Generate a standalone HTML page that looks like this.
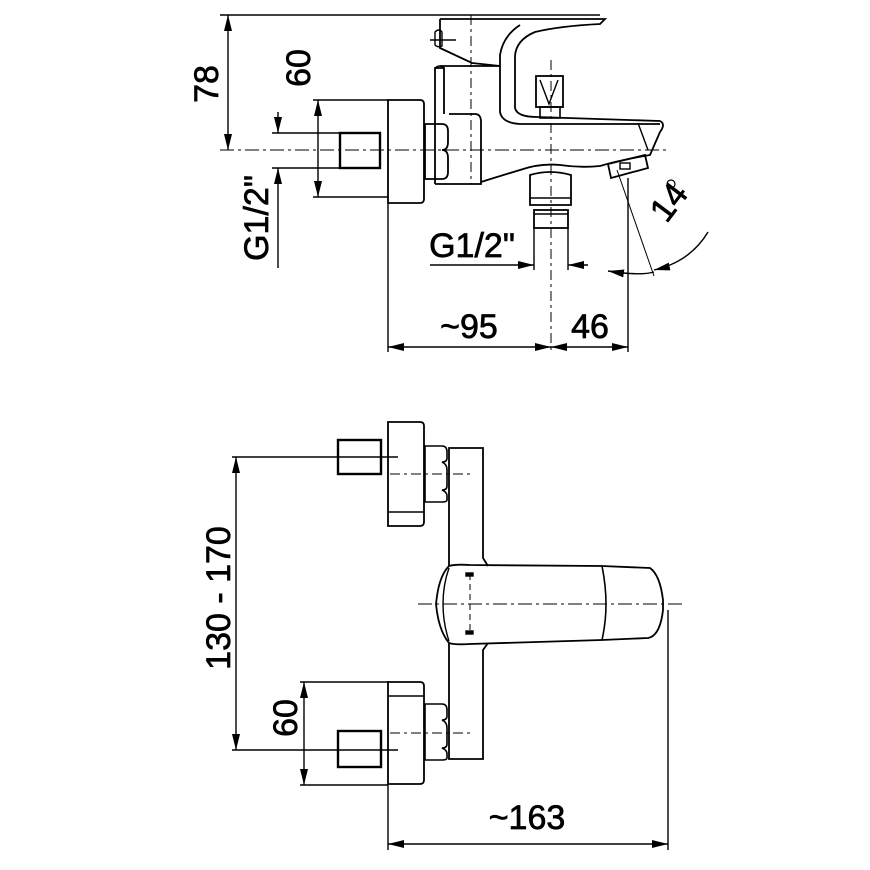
<!DOCTYPE html>
<html><head><meta charset="utf-8"><style>
html,body{margin:0;padding:0;background:#fff}
svg{display:block}
text{font-family:"Liberation Sans",Arial,sans-serif;font-size:34px;fill:#000;stroke:#000;stroke-width:0.7}
</style></head><body>
<svg width="870" height="870" viewBox="0 0 870 870" xmlns="http://www.w3.org/2000/svg">
<defs>
<marker id="a" viewBox="0 0 16 8" refX="16" refY="4" markerWidth="16" markerHeight="8" markerUnits="userSpaceOnUse" orient="auto"><path d="M0,0 L16,4 L0,8 Z" fill="#000"/></marker>
<marker id="b" viewBox="0 0 16 8" refX="0" refY="4" markerWidth="16" markerHeight="8" markerUnits="userSpaceOnUse" orient="auto"><path d="M16,0 L0,4 L16,8 Z" fill="#000"/></marker>
</defs>
<g fill="none" stroke="#000" stroke-width="1.4">
<!-- TOP VIEW dimension lines -->
<line x1="220" y1="15" x2="600" y2="15"/>
<line x1="228" y1="15" x2="228" y2="150" marker-start="url(#b)" marker-end="url(#a)"/>
<line x1="313" y1="100" x2="388" y2="100"/>
<line x1="313" y1="197" x2="388" y2="197"/>
<line x1="318" y1="100" x2="318" y2="197" marker-start="url(#b)" marker-end="url(#a)"/>
<line x1="272" y1="133" x2="340" y2="133"/>
<line x1="272" y1="168" x2="340" y2="168"/>
<line x1="278" y1="112" x2="278" y2="133" marker-end="url(#a)"/>
<line x1="278" y1="268" x2="278" y2="168" marker-end="url(#a)"/>
<line x1="220" y1="150" x2="668" y2="150" stroke-dasharray="14,4,3,4" stroke-width="1"/>
<line x1="388" y1="203" x2="388" y2="352"/>
<line x1="628" y1="178" x2="628" y2="352"/>
<line x1="551" y1="60" x2="551" y2="352" stroke-dasharray="10,4,3,4" stroke-width="1"/>
<line x1="471" y1="15" x2="471" y2="184" stroke-dasharray="10,4,3,4" stroke-width="1"/>
<line x1="388" y1="347" x2="551" y2="347" marker-start="url(#b)" marker-end="url(#a)"/>
<line x1="551" y1="347" x2="628" y2="347" marker-start="url(#b)" marker-end="url(#a)"/>
<line x1="534" y1="228" x2="534" y2="270"/>
<line x1="568" y1="228" x2="568" y2="270"/>
<line x1="430" y1="265" x2="534" y2="265" marker-end="url(#a)"/>
<line x1="588" y1="265" x2="568" y2="265" marker-end="url(#a)"/>
<!-- angle -->
<line x1="617" y1="170" x2="654" y2="276" stroke-width="1"/>
<path d="M608,271 Q640,276 654,272" marker-start="url(#b)"/>
<path d="M708,232 Q690,262 654,270" marker-end="url(#a)"/>
<!-- nipple / flange / nut -->
<rect x="340" y="133" width="40" height="35" stroke-width="2.4"/>
<path d="M388,100 H420 Q424,100 424,104 V199 Q424,203 420,203 H388 Z" stroke-width="1.8"/>
<path d="M425,124 H442 Q448,124 448,131 V142 Q448,150 442,150 Q448,150 448,158 V172 Q448,179 442,179 H425 Z" stroke-width="1.8"/>
<!-- body -->
<path d="M435,184 V68 H444 V114" stroke-width="1.8"/>
<path d="M449,114 H475 Q481,114 481,122 V184 H435" stroke-width="1.8"/>
<!-- lever -->
<path d="M440,19 H605 L600,24 Q560,26 535,32 Q516,40 515,56 V108 Q517,117 537,117 L660,121 Q666,124 660,132 L650,155 Q620,160 600,166 Q580,168 560,165 Q540,163 520,170 Q500,176 481,182" stroke-width="1.8"/>
<path d="M520,25 Q503,36 500,55 V112 Q502,123 520,124 L660,124" stroke-width="1.8"/>
<path d="M440,19 V48 L472,63 L500,66 M440,66 H500" stroke-width="1.8"/>
<path d="M435,68 Q440,64 444,68"/>
<line x1="430" y1="40" x2="456" y2="40"/>
<path d="M435,32 Q439,28 442,32 V46 Q438,48 435,45 Z"/>
<line x1="638" y1="123" x2="648" y2="150"/>
<!-- diverter -->
<rect x="536" y="76" width="27" height="31" stroke-width="1.8"/>
<path d="M540,80 L549,104 L558,80"/>
<rect x="540" y="107" width="20" height="11" stroke-width="1.6"/>
<!-- aerator -->
<path d="M608,164 L645,155 L648,168 L611,178 Z" stroke-width="1.8"/>
<rect x="620" y="163" width="10" height="6"/>
<!-- lower connector -->
<path d="M530,175 Q550,169 571,175 V205 H530 Z" stroke-width="1.8"/>
<line x1="530" y1="198" x2="571" y2="198"/>
<rect x="534" y="210" width="34" height="18" stroke-width="1.8"/>
<line x1="534" y1="214" x2="568" y2="214"/>

<!-- BOTTOM VIEW -->
<line x1="232" y1="457" x2="398" y2="457"/>
<line x1="232" y1="750" x2="398" y2="750"/>
<line x1="236" y1="457" x2="236" y2="750" marker-start="url(#b)" marker-end="url(#a)"/>
<line x1="300" y1="682" x2="388" y2="682"/>
<line x1="300" y1="785" x2="388" y2="785"/>
<line x1="304" y1="682" x2="304" y2="785" marker-start="url(#b)" marker-end="url(#a)"/>
<line x1="388" y1="785" x2="388" y2="850"/>
<line x1="668" y1="610" x2="668" y2="850"/>
<line x1="388" y1="844" x2="668" y2="844" marker-start="url(#b)" marker-end="url(#a)"/>
<line x1="418" y1="604" x2="685" y2="604" stroke-dasharray="14,4,3,4" stroke-width="1"/>
<line x1="390" y1="474" x2="472" y2="474" stroke-dasharray="10,4,3,4" stroke-width="1"/>
<line x1="390" y1="733" x2="472" y2="733" stroke-dasharray="10,4,3,4" stroke-width="1"/>
<!-- upper -->
<rect x="338" y="440" width="43" height="34" stroke-width="2.4"/>
<path d="M388,422 H420 Q424,422 424,426 V522 Q424,526 420,526 H388 Z" stroke-width="1.8"/>
<line x1="388" y1="512" x2="424" y2="512"/>
<path d="M425,446 H442 Q447,446 447,452 V458 Q447,462 442,462 Q447,464 447,470 V486 Q447,490 442,490 Q447,492 447,496 V500 Q447,502 442,502 H425 Z" stroke-width="1.6"/>
<!-- lower -->
<rect x="338" y="731" width="43" height="36" stroke-width="2.4"/>
<path d="M388,682 H420 Q424,682 424,686 V780 Q424,784 420,784 H388 Z" stroke-width="1.8"/>
<line x1="388" y1="696" x2="424" y2="696"/>
<path d="M425,704 H442 Q447,704 447,710 V716 Q447,720 442,720 Q447,722 447,728 V744 Q447,748 442,748 Q447,750 447,754 V758 Q447,760 442,760 H425 Z" stroke-width="1.6"/>
<!-- stem -->
<path d="M449,566 V448 H483 V558 L488,566" stroke-width="1.8"/>
<path d="M449,643 V759 H483 V650 L488,643" stroke-width="1.8"/>
<!-- spout -->
<path d="M449,566 Q440,575 437,596 L436,604 L437,612 Q440,632 449,643 Q455,645 470,644 L602,640 L648,638 Q660,636 663,610 V600 Q660,575 650,568 L602,566 L470,565 Q455,564 449,566 Z" stroke-width="1.8"/>
<path d="M602,566 Q606,586 606,604 Q606,622 602,640" stroke-width="1.6"/>
<path d="M449,568 Q443,585 443,604 Q443,623 449,641"/>
<line x1="470" y1="574" x2="470" y2="634" stroke-dasharray="6,4" stroke-width="1"/>
<rect x="466" y="573" width="7" height="3" fill="#000"/>
<rect x="466" y="631" width="7" height="3" fill="#000"/>
</g>
<g>
<text transform="translate(218,84) rotate(-90)" text-anchor="middle">78</text>
<text transform="translate(310,68) rotate(-90)" text-anchor="middle">60</text>
<text transform="translate(268,218) rotate(-90)" text-anchor="middle">G1/2"</text>
<text x="472" y="257" text-anchor="middle">G1/2"</text>
<text x="469" y="338" text-anchor="middle">~95</text>
<text x="590" y="338" text-anchor="middle">46</text>
<text transform="translate(678,209) rotate(-53)" text-anchor="middle">14</text>
<circle cx="671" cy="184" r="4" fill="none" stroke="#000" stroke-width="1.2"/>
<text transform="translate(230,598) rotate(-90)" text-anchor="middle">130 - 170</text>
<text transform="translate(297,718) rotate(-90)" text-anchor="middle">60</text>
<text x="527" y="829" text-anchor="middle">~163</text>
</g>
</svg>
</body></html>
